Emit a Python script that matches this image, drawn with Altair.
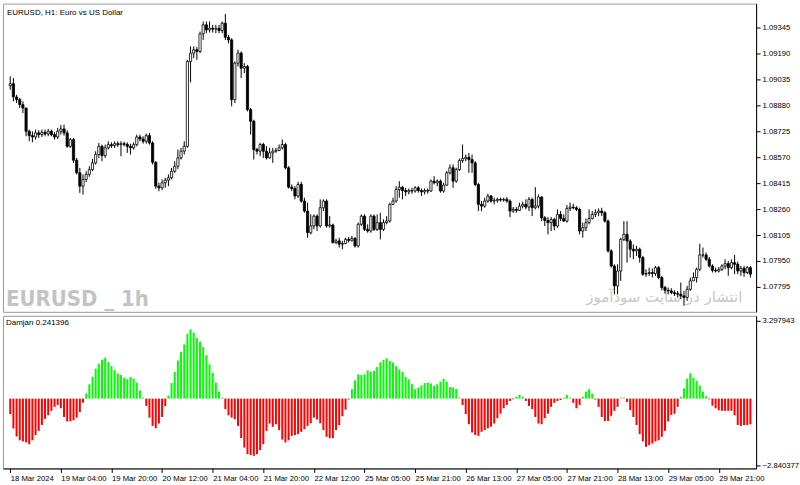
import json
import altair as alt
import pandas as pd

# ---------------- data ----------------
OPEN0 = 1.08997
CLOSE = [
 1.09009,1.08930,1.08914,1.08884,1.08864,1.08725,1.08699,1.08691,1.08715,1.08705,
 1.08719,1.08709,1.08725,1.08705,1.08691,1.08725,1.08739,1.08715,1.08635,1.08675,
 1.08552,1.08477,1.08397,1.08437,1.08467,1.08496,1.08536,1.08586,1.08635,1.08580,
 1.08626,1.08645,1.08639,1.08651,1.08645,1.08651,1.08647,1.08635,1.08626,1.08645,
 1.08691,1.08679,1.08665,1.08699,1.08655,1.08540,1.08397,1.08387,1.08417,1.08433,
 1.08447,1.08486,1.08516,1.08566,1.08606,1.08635,1.09142,1.09192,1.09212,1.09202,
 1.09307,1.09361,1.09331,1.09341,1.09335,1.09341,1.09327,1.09371,1.09287,1.09271,
 1.08914,1.09132,1.09192,1.09102,1.09112,1.08854,1.08785,1.08616,1.08606,1.08646,
 1.08606,1.08566,1.08596,1.08606,1.08610,1.08626,1.08646,1.08507,1.08391,1.08383,
 1.08338,1.08407,1.08308,1.08248,1.08119,1.08159,1.08218,1.08159,1.08268,1.08308,
 1.08159,1.08165,1.08060,1.08070,1.08050,1.08054,1.08079,1.08073,1.08085,1.08040,
 1.08169,1.08218,1.08139,1.08129,1.08218,1.08139,1.08179,1.08139,1.08179,1.08189,
 1.08288,1.08308,1.08377,1.08391,1.08371,1.08363,1.08371,1.08368,1.08387,1.08371,
 1.08363,1.08371,1.08368,1.08427,1.08417,1.08427,1.08368,1.08403,1.08477,1.08507,
 1.08427,1.08497,1.08550,1.08562,1.08570,1.08556,1.08536,1.08407,1.08288,1.08278,
 1.08308,1.08338,1.08308,1.08312,1.08318,1.08314,1.08318,1.08308,1.08248,1.08258,
 1.08252,1.08278,1.08288,1.08272,1.08318,1.08268,1.08278,1.08332,1.08208,1.08192,
 1.08179,1.08198,1.08159,1.08228,1.08204,1.08188,1.08264,1.08272,1.08268,1.08258,
 1.08129,1.08149,1.08179,1.08204,1.08228,1.08238,1.08248,1.08238,1.08188,1.08010,
 1.07920,1.07801,1.07890,1.08079,1.08109,1.08069,1.08020,1.08010,1.08020,1.07970,
 1.07871,1.07875,1.07881,1.07875,1.07910,1.07851,1.07791,1.07775,1.07771,1.07761,
 1.07755,1.07751,1.07741,1.07732,1.07781,1.07831,1.07851,1.07900,1.07986,1.07986,
 1.07960,1.07920,1.07894,1.07890,1.07900,1.07920,1.07934,1.07910,1.07940,1.07930,
 1.07890,1.07906,1.07881,1.07910,1.07871,
]
HIGH = [
 1.09053,1.09043,1.08943,1.08924,1.08904,1.08864,1.08735,1.08725,1.08735,1.08731,
 1.08735,1.08735,1.08739,1.08735,1.08719,1.08745,1.08763,1.08765,1.08731,1.08685,
 1.08685,1.08566,1.08506,1.08467,1.08486,1.08516,1.08560,1.08606,1.08655,1.08645,
 1.08645,1.08665,1.08659,1.08665,1.08665,1.08665,1.08663,1.08659,1.08651,1.08659,
 1.08705,1.08705,1.08695,1.08711,1.08715,1.08665,1.08546,1.08417,1.08437,1.08447,
 1.08467,1.08506,1.08546,1.08616,1.08626,1.08665,1.09152,1.09232,1.09232,1.09228,
 1.09321,1.09381,1.09381,1.09381,1.09361,1.09361,1.09361,1.09381,1.09426,1.09301,
 1.09281,1.09142,1.09212,1.09202,1.09132,1.09122,1.08864,1.08794,1.08626,1.08656,
 1.08656,1.08636,1.08626,1.08626,1.08626,1.08646,1.08676,1.08656,1.08517,1.08407,
 1.08397,1.08423,1.08423,1.08328,1.08298,1.08228,1.08228,1.08228,1.08318,1.08318,
 1.08318,1.08218,1.08173,1.08083,1.08089,1.08070,1.08089,1.08093,1.08099,1.08093,
 1.08179,1.08228,1.08228,1.08169,1.08228,1.08228,1.08228,1.08238,1.08199,1.08218,
 1.08298,1.08328,1.08397,1.08427,1.08397,1.08387,1.08383,1.08387,1.08397,1.08397,
 1.08383,1.08383,1.08383,1.08437,1.08457,1.08437,1.08437,1.08417,1.08487,1.08527,
 1.08527,1.08507,1.08562,1.08646,1.08586,1.08596,1.08586,1.08546,1.08417,1.08308,
 1.08328,1.08352,1.08344,1.08328,1.08328,1.08328,1.08328,1.08332,1.08318,1.08272,
 1.08272,1.08298,1.08304,1.08318,1.08332,1.08328,1.08391,1.08347,1.08337,1.08218,
 1.08212,1.08212,1.08208,1.08258,1.08248,1.08228,1.08284,1.08298,1.08292,1.08278,
 1.08268,1.08179,1.08204,1.08258,1.08248,1.08258,1.08264,1.08268,1.08248,1.08198,
 1.08020,1.07930,1.07930,1.08089,1.08188,1.08188,1.08079,1.08049,1.08040,1.08030,
 1.07980,1.07900,1.07910,1.07906,1.07920,1.07920,1.07861,1.07801,1.07791,1.07787,
 1.07775,1.07771,1.07821,1.07771,1.07801,1.07851,1.07881,1.07910,1.08053,1.08030,
 1.08000,1.07974,1.07930,1.07910,1.07914,1.07930,1.07960,1.07950,1.07960,1.07986,
 1.07946,1.07920,1.07920,1.07920,1.07920,
]
LOW = [
 1.08973,1.08904,1.08894,1.08864,1.08834,1.08695,1.08665,1.08659,1.08675,1.08685,
 1.08691,1.08695,1.08695,1.08695,1.08675,1.08679,1.08705,1.08699,1.08626,1.08626,
 1.08536,1.08467,1.08357,1.08347,1.08421,1.08453,1.08486,1.08526,1.08566,1.08546,
 1.08566,1.08616,1.08626,1.08626,1.08632,1.08576,1.08635,1.08596,1.08586,1.08616,
 1.08635,1.08665,1.08651,1.08651,1.08645,1.08526,1.08381,1.08367,1.08373,1.08387,
 1.08397,1.08437,1.08477,1.08500,1.08556,1.08586,1.08626,1.09017,1.09162,1.09152,
 1.09192,1.09271,1.09311,1.09315,1.09315,1.09311,1.09311,1.09311,1.09271,1.09251,
 1.08874,1.08894,1.09112,1.09043,1.09073,1.08844,1.08705,1.08556,1.08586,1.08576,
 1.08566,1.08556,1.08562,1.08536,1.08596,1.08606,1.08616,1.08497,1.08383,1.08368,
 1.08318,1.08328,1.08298,1.08238,1.08089,1.08109,1.08139,1.08129,1.08149,1.08248,
 1.08149,1.08149,1.08054,1.08050,1.08030,1.08020,1.08050,1.08060,1.08066,1.08030,
 1.08030,1.08159,1.08129,1.08119,1.08119,1.08129,1.08129,1.08079,1.08129,1.08169,
 1.08179,1.08284,1.08298,1.08328,1.08318,1.08338,1.08348,1.08352,1.08358,1.08358,
 1.08338,1.08348,1.08352,1.08363,1.08407,1.08397,1.08358,1.08358,1.08397,1.08467,
 1.08387,1.08417,1.08487,1.08536,1.08546,1.08477,1.08477,1.08397,1.08248,1.08248,
 1.08268,1.08298,1.08298,1.08288,1.08298,1.08304,1.08304,1.08298,1.08212,1.08238,
 1.08238,1.08248,1.08264,1.08258,1.08248,1.08218,1.08258,1.08264,1.08188,1.08159,
 1.08109,1.08129,1.08133,1.08149,1.08188,1.08185,1.08179,1.08248,1.08258,1.08248,
 1.08109,1.08089,1.08129,1.08169,1.08198,1.08212,1.08218,1.08218,1.08179,1.08000,
 1.07910,1.07751,1.07751,1.07831,1.08069,1.07940,1.07970,1.07960,1.07980,1.07940,
 1.07861,1.07855,1.07861,1.07851,1.07861,1.07841,1.07775,1.07755,1.07751,1.07751,
 1.07741,1.07732,1.07722,1.07682,1.07712,1.07771,1.07831,1.07821,1.07890,1.07970,
 1.07950,1.07910,1.07881,1.07881,1.07881,1.07890,1.07900,1.07861,1.07900,1.07871,
 1.07871,1.07861,1.07855,1.07871,1.07851,
]
DAMJAN = [
 -0.66,-1.27,-1.61,-1.77,-1.82,-1.86,-1.94,-1.77,-1.55,-1.37,-1.12,-0.86,-0.71,-0.52,-0.35,-0.27,
 -0.41,-0.78,-0.97,-0.97,-0.92,-0.81,-0.58,-0.17,
 0.21,0.61,0.93,1.27,1.48,1.65,1.74,1.55,1.38,1.21,1.07,1.00,0.89,0.82,0.92,0.85,0.68,0.35,0.04,
 -0.31,-0.81,-1.16,-1.26,-1.06,-0.78,-0.32,
 0.13,0.66,1.13,1.62,1.99,2.30,2.75,2.94,2.80,2.58,2.42,2.19,1.84,1.45,1.09,0.68,0.30,0.04,
 -0.45,-0.71,-0.81,-0.88,-1.16,-1.68,-2.08,-2.36,-2.40,-2.43,-2.36,-2.19,-1.94,-1.37,-1.06,-1.20,
 -1.09,-1.34,-1.74,-1.86,-1.77,-1.58,-1.55,-1.51,-1.41,-1.30,-1.16,-1.05,-0.81,-0.89,-1.05,-1.34,
 -1.62,-1.68,-1.68,-1.34,-1.13,-0.75,-0.47,-0.04,
 0.40,0.78,1.03,1.00,1.03,1.20,1.14,1.17,1.34,1.54,1.64,1.72,1.60,1.53,1.38,1.24,1.14,0.92,0.82,
 0.61,0.40,0.47,0.56,0.66,0.68,0.64,0.54,0.61,0.72,0.85,0.72,0.49,0.47,0.41,0.04,
 -0.27,-0.66,-1.09,-1.44,-1.55,-1.58,-1.41,-1.34,-1.26,-1.19,-1.06,-0.83,-0.64,-0.41,-0.27,-0.10,-0.03,
 0.08,0.16,0.08,
 -0.10,-0.31,-0.45,-0.78,-1.06,-1.09,-0.83,-0.64,-0.35,-0.18,-0.10,-0.06,
 0.04,0.16,0.04,
 -0.18,-0.41,-0.27,
 0.08,0.30,0.40,0.21,
 -0.04,-0.35,-0.78,-0.95,-0.95,-0.73,-0.52,-0.35,
 0.04,0.04,
 -0.14,-0.49,-0.78,-1.12,-1.51,-1.82,-2.05,-1.98,-1.91,-1.82,-1.77,-1.62,-1.37,-0.97,-0.69,-0.64,-0.35,
 0.08,0.44,0.85,1.07,0.89,0.75,0.56,0.30,0.10,
 -0.03,-0.30,-0.41,-0.49,-0.52,-0.52,-0.52,-0.52,-0.71,-1.12,-1.16,-1.13,-1.12,-1.09,
]
TIME_LABELS = ["18 Mar 2024", "19 Mar 04:00", "19 Mar 20:00", "20 Mar 12:00", "21 Mar 04:00",
               "21 Mar 20:00", "22 Mar 12:00", "25 Mar 05:00", "25 Mar 21:00", "26 Mar 13:00",
               "27 Mar 05:00", "27 Mar 21:00", "28 Mar 13:00", "29 Mar 05:00", "29 Mar 21:00"]
LABEL_STEP = 16
PRICE_TICKS = [1.07795, 1.07950, 1.08105, 1.08260, 1.08415, 1.08570,
               1.08725, 1.08880, 1.09035, 1.09190, 1.09345]
IND_TICKS = [3.297943, -2.840377]
TITLE = "EURUSD, H1:  Euro vs US Dollar"
IND_TITLE = "Damjan 0.241396"
WATERMARK_1 = "EURUSD _ 1h"
WATERMARK_2 = "انتشار در سایت سودآموز"

n = len(CLOSE)
opens = [OPEN0] + CLOSE[:-1]
df = pd.DataFrame({
    "i": list(range(n)),
    "open": opens,
    "close": CLOSE,
    "high": HIGH,
    "low": LOW,
    "ind": DAMJAN[:n],
})
df["up"] = df["close"] >= df["open"]

FONT = "Liberation Sans"
W = 755
H_MAIN = 309
H_IND = 153

xscale = alt.Scale(domain=[-0.72, 234.23], nice=False, zero=False)
yscale_main = alt.Scale(domain=[1.07646, 1.09488], nice=False, zero=False)
yscale_ind = alt.Scale(domain=[-2.966, 3.517], nice=False, zero=False)

axis_common = dict(domainColor="black", tickColor="black", tickSize=4, grid=False, title=None,
                   labelFont=FONT, labelFontSize=7.7, labelColor="black", labelPadding=2,
                   labelOverlap=False, labelBound=False, labelFlush=False, labelSeparation=0)

price_axis = alt.Axis(orient="right", values=PRICE_TICKS, format=".5f", **axis_common)

base = alt.Chart(df)

wicks = base.mark_rule(color="black", strokeWidth=1).encode(
    x=alt.X("i:Q", scale=xscale, axis=None),
    y=alt.Y("low:Q", scale=yscale_main, axis=price_axis),
    y2="high:Q",
)
bodies = base.mark_bar(size=2.2, stroke="black", strokeWidth=0.8).encode(
    x=alt.X("i:Q", scale=xscale, axis=None),
    y=alt.Y("open:Q", scale=yscale_main, axis=price_axis),
    y2="close:Q",
    fill=alt.condition(alt.datum.up, alt.value("white"), alt.value("black")),
)

wm1 = alt.Chart(pd.DataFrame({"t": [WATERMARK_1]})).mark_text(
    align="left", baseline="alphabetic", font="DejaVu Sans Condensed, Liberation Sans Narrow, Liberation Sans",
    fontWeight="bold", fontSize=22, color="#c3c3c3"
).encode(text="t:N", x=alt.value(3), y=alt.value(303))
wm2 = alt.Chart(pd.DataFrame({"t": [WATERMARK_2]})).mark_text(
    align="center", baseline="middle", font="DejaVu Sans", fontSize=15, color="#c8c8c8"
).encode(text="t:N", x=alt.value(663), y=alt.value(294))
title = alt.Chart(pd.DataFrame({"t": [TITLE]})).mark_text(
    align="left", baseline="middle", font=FONT, fontSize=8, color="black"
).encode(text="t:N", x=alt.value(4), y=alt.value(9))

main = alt.layer(wm1, wm2, wicks, bodies, title).properties(width=W, height=H_MAIN)

label_expr = f"{json.dumps(TIME_LABELS)}[round(datum.value / {LABEL_STEP})]"
hist = base.mark_bar(size=2).encode(
    x=alt.X("i:Q", scale=xscale,
            axis=alt.Axis(orient="bottom", values=[k * LABEL_STEP for k in range(len(TIME_LABELS))],
                          labelExpr=label_expr, labelAlign="left", **axis_common)),
    y=alt.Y("ind:Q", scale=yscale_ind,
            axis=alt.Axis(orient="right", values=IND_TICKS, format=".6f", **axis_common)),
    y2=alt.datum(0),
    color=alt.condition(alt.datum.ind > 0, alt.value("#00ff00"), alt.value("#ff0000")),
)
ind_title = alt.Chart(pd.DataFrame({"t": [IND_TITLE]})).mark_text(
    align="left", baseline="middle", font=FONT, fontSize=8, color="black"
).encode(text="t:N", x=alt.value(3), y=alt.value(7))

ind = alt.layer(hist, ind_title).properties(width=W, height=H_IND)

chart = alt.vconcat(main, ind, spacing=2).properties(
    padding={"left": 2, "top": 2, "right": 0, "bottom": 0},
    background="white",
).configure_view(stroke="#9a9a9a", strokeWidth=1)

chart.save("out.html", embed_options={"renderer": "svg", "actions": False})
